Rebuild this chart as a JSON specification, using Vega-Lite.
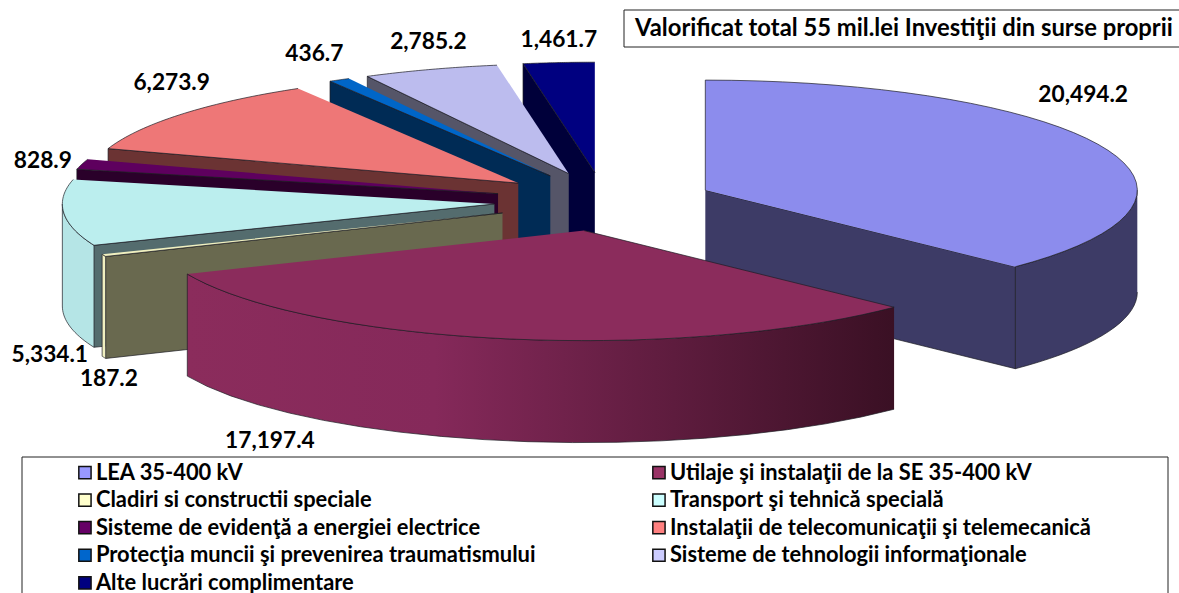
{
"$schema":"https://vega.github.io/schema/vega-lite/v6.json",
"width":1179,"height":593,"autosize":"none","padding":0,"background":"white",
"config":{"view":{"stroke":null},"font":"Lato"},
"datasets":{"slices":[
{"name":"Alte lucrări complimentare","value":1461.7},
{"name":"Sisteme de tehnologii informaţionale","value":2785.2},
{"name":"Protecţia muncii şi prevenirea traumatismului","value":436.7},
{"name":"Instalaţii de telecomunicaţii şi telemecanică","value":6273.9},
{"name":"Sisteme de evidenţă a energiei electrice","value":828.9},
{"name":"Transport şi tehnică specială","value":5334.1},
{"name":"Cladiri si constructii speciale","value":187.2},
{"name":"Utilaje şi instalaţii de la SE 35-400 kV","value":17197.4},
{"name":"LEA 35-400 kV","value":20494.2}
]},
"layer":[
{"data":{"name":"slices"},
"transform":[
{"window":[{"op":"sum","field":"value","as":"cum"}],"frame":[null,0],"ignorePeers":true},
{"joinaggregate":[{"op":"sum","field":"value","as":"total"}]},
{"calculate":"2*PI*(1-datum.cum/datum.total)","as":"a1"},
{"calculate":"2*PI*(1-(datum.cum-datum.value)/datum.total)","as":"a2"},
{"calculate":"(datum.a1+datum.a2)/2","as":"mid"},
{"calculate":"604+110*sin(datum.mid)","as":"cx"},
{"calculate":"201.6-29.5*cos(datum.mid)","as":"cy"},
{"calculate":"max(datum.a1,PI/2)","as":"w1"},
{"calculate":"min(datum.a2,3*PI/2)","as":"w2"},
{"calculate":"datum.mid>PI?datum.a1:datum.a2","as":"ac"},
{"calculate":"['wall','cut','top']","as":"faces"},
{"flatten":["faces"],"as":["face"]},
{"filter":"(datum.face=='top')||(datum.face=='wall'&&datum.w2>datum.w1)||(datum.face=='cut'&&datum.name!='Utilaje şi instalaţii de la SE 35-400 kV')"},
{"calculate":"[0,1,2,3,4,5,6,7,8,9,10,11,12,13,14,15,16,17,18,19,20,21,22,23,24,25,26,27,28,29,30,31,32,33,34,35,36,37,38,39,40]","as":"ks"},
{"flatten":["ks"],"as":["k"]},
{"filter":"datum.face!='cut'||datum.k<=3"},
{"calculate":"datum.face=='top'?datum.a1+(datum.a2-datum.a1)*max(datum.k-1,0)/39:datum.face=='cut'?datum.ac:(datum.k<=20?datum.w1+(datum.w2-datum.w1)*datum.k/20:datum.w2-(datum.w2-datum.w1)*(datum.k-21)/19)","as":"ang"},
{"calculate":"datum.face=='top'?(datum.k==0?0:1):datum.face=='cut'?((datum.k==1||datum.k==2)?1:0):1","as":"r"},
{"calculate":"datum.face=='top'?0:datum.face=='cut'?(datum.k>=2?1:0):(datum.k>20?1:0)","as":"low"},
{"calculate":"datum.cx+datum.r*432*sin(datum.ang)","as":"px"},
{"calculate":"datum.cy-datum.r*110*cos(datum.ang)+datum.low*102","as":"py"},
{"calculate":"datum.face+'|'+datum.name","as":"poly"}
],
"encoding":{
"x":{"field":"px","type":"quantitative","axis":null,"scale":{"domain":[0,1179],"nice":false,"zero":false}},
"y":{"field":"py","type":"quantitative","axis":null,"scale":{"domain":[0,593],"nice":false,"zero":false,"reverse":true}},
"order":{"field":"k","type":"quantitative"}
},
"layer":[
{"transform":[{"filter":"datum.name!='Utilaje şi instalaţii de la SE 35-400 kV'"}],
"mark":{"type":"line","stroke":"#1c1c24","strokeWidth":0.7,"strokeJoin":"round"},
"encoding":{"fill":{"field":"poly","type":"nominal","legend":null,"scale":{
"domain":["cut|Alte lucrări complimentare","top|Alte lucrări complimentare","cut|Sisteme de tehnologii informaţionale","top|Sisteme de tehnologii informaţionale","cut|Protecţia muncii şi prevenirea traumatismului","top|Protecţia muncii şi prevenirea traumatismului","cut|Instalaţii de telecomunicaţii şi telemecanică","top|Instalaţii de telecomunicaţii şi telemecanică","cut|Sisteme de evidenţă a energiei electrice","top|Sisteme de evidenţă a energiei electrice","wall|Transport şi tehnică specială","cut|Transport şi tehnică specială","top|Transport şi tehnică specială","wall|Cladiri si constructii speciale","cut|Cladiri si constructii speciale","top|Cladiri si constructii speciale","wall|LEA 35-400 kV","cut|LEA 35-400 kV","top|LEA 35-400 kV"],
"range":["#00003a","#000080","#555568","#bcbcee","#002b55","#0066c8","#6b3333","#ee7777","#2a002a","#5e005e","#b5e5e6","#546c6e","#bbeeee","#f0f0c0","#69694f","#f0f0c0","#3d3b66","#3d3b66","#8c8ced"]}}}},
{"transform":[{"filter":"datum.poly=='wall|Utilaje şi instalaţii de la SE 35-400 kV'"}],
"mark":{"type":"line","stroke":"#1c1c24","strokeWidth":0.7,"fill":{"gradient":"linear","x1":0,"y1":0,"x2":1,"y2":0,"stops":[{"offset":0,"color":"#8b2c5c"},{"offset":0.35,"color":"#85295a"},{"offset":1,"color":"#3a1024"}]}}},
{"transform":[{"filter":"datum.poly=='top|Utilaje şi instalaţii de la SE 35-400 kV'"}],
"mark":{"type":"line","stroke":"#1c1c24","strokeWidth":0.7,"fill":"#8b2c5c"}}
]},
{"data":{"name":"slices"},
"transform":[
{"window":[{"op":"sum","field":"value","as":"cum"}],"frame":[null,0],"ignorePeers":true},
{"joinaggregate":[{"op":"sum","field":"value","as":"total"}]},
{"calculate":"2*PI*(1-(datum.cum-datum.value/2)/datum.total)","as":"mid"},
{"calculate":"{'LEA 35-400 kV':[-20,-52],'Utilaje şi instalaţii de la SE 35-400 kV':[-236,102],'Cladiri si constructii speciale':[5,124],'Transport şi tehnică specială':[-14,142],'Sisteme de evidenţă a energiei electrice':[-39,-3],'Instalaţii de telecomunicaţii şi telemecanică':[-10,-31],'Protecţia muncii şi prevenirea traumatismului':[-25,-26],'Sisteme de tehnologii informaţionale':[-2,-27],'Alte lucrări complimentare':[0,-23]}[datum.name]","as":"off"},
{"calculate":"604+110*sin(datum.mid)+432*sin(datum.mid)+datum.off[0]","as":"lx"},
{"calculate":"201.6-29.5*cos(datum.mid)-110*cos(datum.mid)+datum.off[1]","as":"ly"}
],
"mark":{"type":"text","font":"Lato","fontWeight":"bold","fontSize":22.7,"color":"black","align":"center","baseline":"middle"},
"encoding":{
"x":{"field":"lx","type":"quantitative","axis":null,"scale":{"domain":[0,1179],"nice":false,"zero":false}},
"y":{"field":"ly","type":"quantitative","axis":null,"scale":{"domain":[0,593],"nice":false,"zero":false,"reverse":true}},
"text":{"field":"value","type":"quantitative","format":",.1f"}}},
{"data":{"values":[{"caption":"Valorificat total 55 mil.lei Investiţii din surse proprii"}]},
"transform":[{"calculate":"22","as":"bx"},{"calculate":"1168","as":"bx2"},{"calculate":"457","as":"by"},{"calculate":"610","as":"by2"}],
"mark":{"type":"rect","fill":"white","stroke":"#222","strokeWidth":1,"clip":true},
"encoding":{
"x":{"field":"bx","type":"quantitative","axis":null,"scale":{"domain":[0,1179],"nice":false,"zero":false}},"x2":{"field":"bx2"},
"y":{"field":"by","type":"quantitative","axis":null,"scale":{"domain":[0,593],"nice":false,"zero":false,"reverse":true}},"y2":{"field":"by2"}}},
{"data":{"values":[{"caption":"Valorificat total 55 mil.lei Investiţii din surse proprii"}]},
"transform":[{"calculate":"624","as":"bx"},{"calculate":"1185","as":"bx2"},{"calculate":"10","as":"by"},{"calculate":"47","as":"by2"},{"calculate":"635","as":"tx"},{"calculate":"29","as":"ty"}],
"layer":[
{"mark":{"type":"rect","fill":"white","stroke":"#222","strokeWidth":1,"clip":true},
"encoding":{
"x":{"field":"bx","type":"quantitative","axis":null,"scale":{"domain":[0,1179],"nice":false,"zero":false}},"x2":{"field":"bx2"},
"y":{"field":"by","type":"quantitative","axis":null,"scale":{"domain":[0,593],"nice":false,"zero":false,"reverse":true}},"y2":{"field":"by2"}}},
{"mark":{"type":"text","font":"Lato","fontWeight":"bold","fontSize":23.8,"color":"black","align":"left","baseline":"middle"},
"encoding":{
"x":{"field":"tx","type":"quantitative","axis":null,"scale":{"domain":[0,1179],"nice":false,"zero":false}},
"y":{"field":"ty","type":"quantitative","axis":null,"scale":{"domain":[0,593],"nice":false,"zero":false,"reverse":true}},
"text":{"field":"caption","type":"nominal"}}}
]},
{"data":{"name":"slices"},
"mark":{"type":"square","size":0},
"encoding":{
"x":{"value":0},"y":{"value":0},
"fill":{"field":"name","type":"nominal","scale":{
"domain":["LEA 35-400 kV","Utilaje şi instalaţii de la SE 35-400 kV","Cladiri si constructii speciale","Transport şi tehnică specială","Sisteme de evidenţă a energiei electrice","Instalaţii de telecomunicaţii şi telemecanică","Protecţia muncii şi prevenirea traumatismului","Sisteme de tehnologii informaţionale","Alte lucrări complimentare"],
"range":["#9999ff","#993366","#ffffcc","#ccffff","#660066","#ff8080","#0066cc","#ccccff","#000080"]},
"legend":{"title":null,"orient":"none","direction":"horizontal","legendX":74,"legendY":461.5,"columns":2,"padding":0,"columnPadding":112,"rowPadding":4.6,"symbolType":"square","symbolSize":150,"symbolStrokeColor":"#111","symbolStrokeWidth":1.5,"symbolOpacity":1,"labelFont":"Lato","labelFontWeight":"bold","labelFontSize":21.9,"labelColor":"black","labelLimit":700,"labelOffset":0}}}}
],
"resolve":{"scale":{"fill":"independent"}}
}
